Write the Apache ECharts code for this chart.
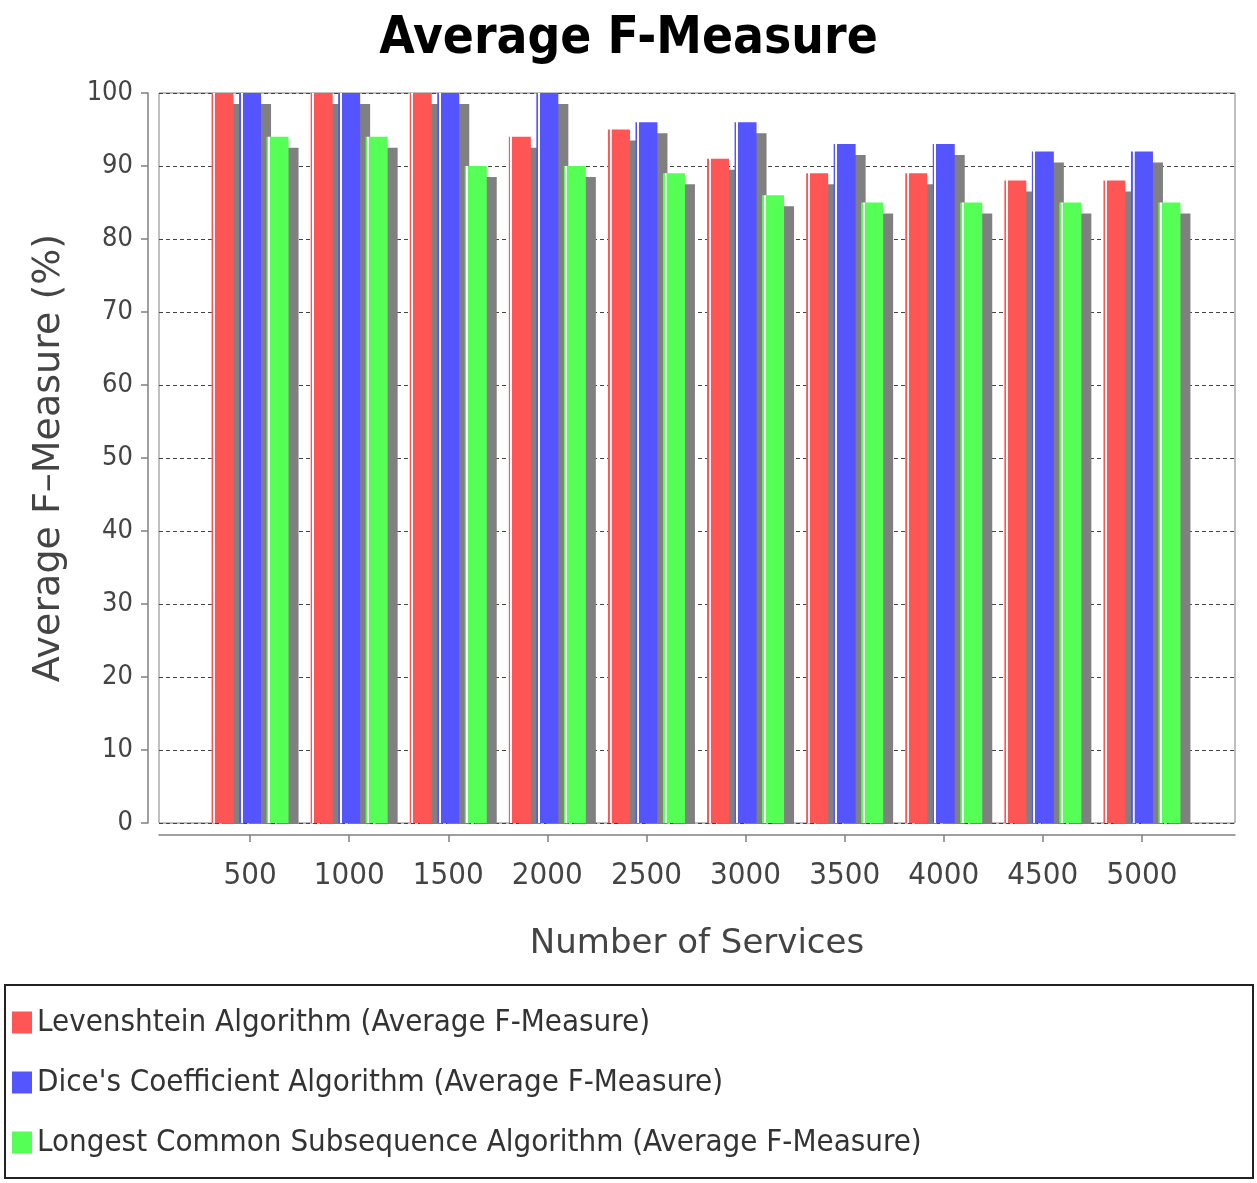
<!DOCTYPE html>
<html>
<head>
<meta charset="utf-8">
<title>Average F-Measure</title>
<script src="https://cdn.jsdelivr.net/npm/echarts@6/dist/echarts.min.js"></script>
<style>
  html, body { margin: 0; padding: 0; background: #fff; }
  #chart { width: 1257px; height: 1183px; }
</style>
</head>
<body>
<div id="chart"></div>
<script>
// Number of services tested
const categories = ['500', '1000', '1500', '2000', '2500', '3000', '3500', '4000', '4500', '5000'];

// Average F-Measure (%) per algorithm
const levenshtein = [100, 100, 100, 94, 95, 91, 89, 89, 88, 88];
const dice        = [100, 100, 100, 100, 96, 96, 93, 93, 92, 92];
const lcs         = [94, 94, 90, 90, 89, 86, 85, 85, 85, 85];

const seriesNames = [
  'Levenshtein Algorithm (Average F-Measure)',
  "Dice's Coefficient Algorithm (Average F-Measure)",
  'Longest Common Subsequence Algorithm (Average F-Measure)'
];
const seriesColors = ['#FF5555', '#5555FF', '#55FF55'];

const NARROW = "'DejaVu Sans Condensed', 'DejaVu Sans', sans-serif";
const WIDE = "'DejaVu Sans', sans-serif";

// bar fill: thin edge line, white highlight stripe, then the solid body
function barFill(c) {
  return new echarts.graphic.LinearGradient(0, 0, 1, 0, [
    { offset: 0, color: c },
    { offset: 0.07, color: c },
    { offset: 0.075, color: '#ffffff' },
    { offset: 0.16, color: '#ffffff' },
    { offset: 0.165, color: c },
    { offset: 1, color: c }
  ]);
}

const chart = echarts.init(document.getElementById('chart'), null, { renderer: 'canvas' });

const series = [levenshtein, dice, lcs].map((vals, i) => ({
  name: seriesNames[i],
  type: 'bar',
  xAxisIndex: 1,
  yAxisIndex: 1,
  data: vals,
  barWidth: 22,
  barGap: '25%',
  itemStyle: {
    color: barFill(seriesColors[i]),
    shadowColor: '#808080',
    shadowBlur: 0,
    shadowOffsetX: 10,
    shadowOffsetY: 11
  },
  emphasis: { disabled: true },
  animation: false
}));

const option = {
  backgroundColor: '#ffffff',
  animation: false,
  title: {
    text: 'Average F-Measure',
    left: 'center',
    top: 2,
    textStyle: {
      fontFamily: NARROW,
      fontWeight: 'bold',
      fontSize: 51,
      lineHeight: 66,
      color: '#000'
    }
  },
  legend: {
    orient: 'vertical',
    left: 7,
    top: 1002,
    height: 178,
    padding: 5,
    itemWidth: 20,
    itemHeight: 22,
    itemGap: 29,
    icon: 'rect',
    data: seriesNames.map((n, i) => ({
      name: n,
      itemStyle: {
        color: seriesColors[i],
        shadowColor: 'rgba(0,0,0,0)',
        shadowOffsetX: 0,
        shadowOffsetY: 0
      }
    })),
    textStyle: {
      fontFamily: NARROW,
      fontSize: 31,
      lineHeight: 22,
      color: '#333'
    },
    selectedMode: false
  },
  grid: [
    // plot frame with gridlines
    { left: 159, top: 93, width: 1076, height: 730, show: true, borderColor: '#808080', borderWidth: 1, backgroundColor: '#fff' },
    // bar area
    { left: 200.5, top: 93, width: 991, height: 730 }
  ],
  xAxis: [
    {
      gridIndex: 0,
      type: 'value',
      min: 0,
      max: 1,
      offset: 12,
      axisLine: { show: true, onZero: false, lineStyle: { color: '#808080', width: 1.5 } },
      axisTick: { show: false },
      axisLabel: { show: false },
      splitLine: { show: false },
      name: 'Number of Services',
      nameLocation: 'middle',
      nameGap: 92,
      nameTextStyle: { fontFamily: WIDE, fontSize: 34, lineHeight: 34, color: '#444' }
    },
    {
      gridIndex: 1,
      type: 'category',
      data: categories,
      offset: 12,
      axisLine: { show: false, onZero: false },
      axisTick: { show: true, alignWithLabel: true, length: 7, lineStyle: { color: '#808080', width: 1.5 } },
      axisLabel: { interval: 0, fontFamily: NARROW, fontSize: 31, lineHeight: 34, margin: 24, color: '#444' },
      splitLine: { show: false }
    }
  ],
  yAxis: [
    {
      gridIndex: 0,
      type: 'value',
      min: 0,
      max: 100,
      interval: 10,
      offset: 11,
      axisLine: { show: true, onZero: false, lineStyle: { color: '#808080', width: 1.5 } },
      axisTick: { show: true, length: 7, lineStyle: { color: '#808080', width: 1.5 } },
      axisLabel: { fontFamily: NARROW, fontSize: 27, margin: 15, color: '#444' },
      splitLine: { show: true, lineStyle: { color: '#444', width: 1.2, type: [4, 3] } },
      name: 'Average F\u2013Measure (%)',
      nameLocation: 'middle',
      nameGap: 80,
      nameTextStyle: { fontFamily: WIDE, fontSize: 38, color: '#444' }
    },
    {
      gridIndex: 1,
      type: 'value',
      min: 0,
      max: 100,
      interval: 10,
      show: false,
      splitLine: { show: false }
    }
  ],
  series: series,
  graphic: [
    // keep bar shadows inside the plot area
    { type: 'rect', z: 50, silent: true, shape: { x: 150, y: 824, width: 1100, height: 10 }, style: { fill: '#fff' } },
    // legend frame
    { type: 'rect', z: 50, silent: true, shape: { x: 5, y: 985, width: 1248, height: 193 }, style: { fill: 'none', stroke: '#222', lineWidth: 2 } }
  ]
};

chart.setOption(option);
</script>
</body>
</html>
